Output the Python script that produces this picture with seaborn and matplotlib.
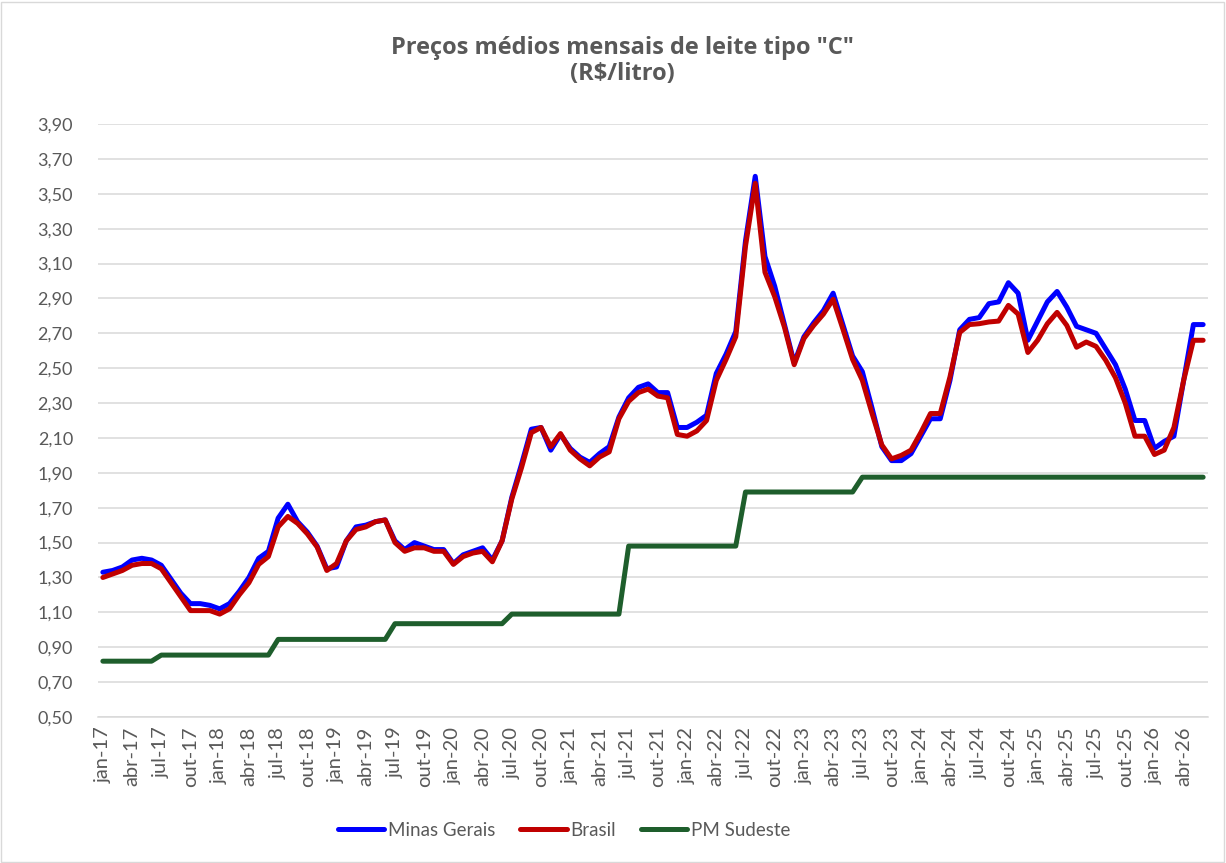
import numpy as np
import pandas as pd
import matplotlib
matplotlib.use("Agg")
import matplotlib.pyplot as plt
from matplotlib.patches import Rectangle
import seaborn as sns

# --- dados (jan-17 a jun-26, um ano por linha) ---
meses = ['jan', 'fev', 'mar', 'abr', 'mai', 'jun', 'jul', 'ago', 'set', 'out', 'nov', 'dez']
anos = ['17', '18', '19', '20', '21', '22', '23', '24', '25', '26']

minas_gerais = [
    1.33, 1.34, 1.36, 1.40, 1.41, 1.40, 1.37, 1.29, 1.21, 1.15, 1.15, 1.14,
    1.12, 1.15, 1.22, 1.30, 1.41, 1.45, 1.64, 1.72, 1.62, 1.56, 1.48, 1.35,
    1.36, 1.51, 1.59, 1.60, 1.62, 1.63, 1.51, 1.46, 1.50, 1.48, 1.46, 1.46,
    1.38, 1.43, 1.45, 1.47, 1.40, 1.51, 1.76, 1.95, 2.15, 2.16, 2.03, 2.12,
    2.04, 1.99, 1.96, 2.01, 2.05, 2.22, 2.33, 2.39, 2.41, 2.36, 2.36, 2.16,
    2.16, 2.19, 2.23, 2.47, 2.58, 2.71, 3.23, 3.60, 3.14, 2.97, 2.75, 2.53,
    2.68, 2.76, 2.83, 2.93, 2.75, 2.57, 2.48, 2.27, 2.05, 1.97, 1.97, 2.01,
    2.11, 2.21, 2.21, 2.43, 2.72, 2.78, 2.79, 2.87, 2.88, 2.99, 2.93, 2.66,
    2.77, 2.88, 2.94, 2.85, 2.74, 2.72, 2.70, 2.61, 2.52, 2.38, 2.20, 2.20,
    2.04, 2.08, 2.11, 2.43, 2.75, 2.75,
]

brasil = [
    1.30, 1.32, 1.34, 1.37, 1.38, 1.38, 1.35, 1.27, 1.19, 1.11, 1.11, 1.11,
    1.09, 1.12, 1.20, 1.27, 1.375, 1.42, 1.59, 1.65, 1.61, 1.55, 1.475, 1.34,
    1.38, 1.51, 1.575, 1.59, 1.62, 1.63, 1.50, 1.45, 1.47, 1.47, 1.45, 1.45,
    1.375, 1.42, 1.44, 1.45, 1.39, 1.51, 1.75, 1.93, 2.13, 2.16, 2.05, 2.125,
    2.03, 1.98, 1.94, 1.99, 2.02, 2.21, 2.31, 2.36, 2.38, 2.34, 2.33, 2.12,
    2.11, 2.14, 2.20, 2.43, 2.55, 2.68, 3.20, 3.56, 3.05, 2.91, 2.735, 2.52,
    2.67, 2.745, 2.81, 2.895, 2.725, 2.55, 2.43, 2.24, 2.06, 1.98, 2.00, 2.03,
    2.13, 2.24, 2.24, 2.45, 2.705, 2.75, 2.755, 2.765, 2.77, 2.86, 2.81, 2.59,
    2.66, 2.755, 2.82, 2.745, 2.62, 2.65, 2.625, 2.545, 2.445, 2.30, 2.11, 2.11,
    2.005, 2.03, 2.16, 2.43, 2.66, 2.66,
]

pm_sudeste = [
    0.82, 0.82, 0.82, 0.82, 0.82, 0.82, 0.855, 0.855, 0.855, 0.855, 0.855, 0.855,
    0.855, 0.855, 0.855, 0.855, 0.855, 0.855, 0.945, 0.945, 0.945, 0.945, 0.945, 0.945,
    0.945, 0.945, 0.945, 0.945, 0.945, 0.945, 1.035, 1.035, 1.035, 1.035, 1.035, 1.035,
    1.035, 1.035, 1.035, 1.035, 1.035, 1.035, 1.09, 1.09, 1.09, 1.09, 1.09, 1.09,
    1.09, 1.09, 1.09, 1.09, 1.09, 1.09, 1.48, 1.48, 1.48, 1.48, 1.48, 1.48,
    1.48, 1.48, 1.48, 1.48, 1.48, 1.48, 1.79, 1.79, 1.79, 1.79, 1.79, 1.79,
    1.79, 1.79, 1.79, 1.79, 1.79, 1.79, 1.875, 1.875, 1.875, 1.875, 1.875, 1.875,
    1.875, 1.875, 1.875, 1.875, 1.875, 1.875, 1.875, 1.875, 1.875, 1.875, 1.875, 1.875,
    1.875, 1.875, 1.875, 1.875, 1.875, 1.875, 1.875, 1.875, 1.875, 1.875, 1.875, 1.875,
    1.875, 1.875, 1.875, 1.875, 1.875, 1.875,
]

series = {'Minas Gerais': minas_gerais, 'Brasil': brasil, 'PM Sudeste': pm_sudeste}
cores = {'Minas Gerais': '#0000FF', 'Brasil': '#C00000', 'PM Sudeste': '#1E5E2C'}

n = len(minas_gerais)
rotulos = [f'{m}-{a}' for a in anos for m in meses][:n]

df = pd.concat([
    pd.DataFrame({'idx': np.arange(n), 'valor': v, 'serie': nome})
    for nome, v in series.items()
], ignore_index=True)

# --- estilo ---
sns.set_theme(style='white')
plt.rcParams['font.family'] = ['Lato', 'DejaVu Sans']
cinza = '#595959'

fig = plt.figure(figsize=(12.26, 8.63), dpi=100)
ax = fig.add_axes([98 / 1226, 1 - 717 / 863, (1208 - 98) / 1226, (717 - 124) / 863])

sns.lineplot(data=df, x='idx', y='valor', hue='serie', palette=cores,
             linewidth=3.6, ax=ax, legend=False,
             solid_capstyle='round', solid_joinstyle='round')

ax.set_xlim(-0.5, n - 0.5)
ax.set_ylim(0.5, 3.9)
yt = np.arange(0.5, 3.91, 0.2)
ax.set_yticks(yt)
ax.set_yticklabels([f'{v:.2f}'.replace('.', ',') for v in yt], fontsize=13, color=cinza)
ax.yaxis.grid(True, color='#D9D9D9', linewidth=1.1)
ax.set_axisbelow(True)

# ticks nas fronteiras das categorias, rotulos no centro
ax.set_xticks(np.arange(-0.5, n, 3))
ax.set_xticklabels([])
ax.set_xticks(np.arange(0, n, 3), minor=True)
ax.set_xticklabels(rotulos[::3], minor=True, rotation=90, fontsize=14.5, color=cinza)
ax.tick_params(axis='x', which='major', length=7, width=1.1, color='#D9D9D9', direction='out')
ax.tick_params(axis='x', which='minor', length=0, pad=7)
ax.tick_params(axis='y', length=0, pad=18)

for s in ['left', 'top', 'right']:
    ax.spines[s].set_visible(False)
ax.spines['bottom'].set_color('#D9D9D9')
ax.spines['bottom'].set_linewidth(1.1)
ax.set_xlabel('')
ax.set_ylabel('')

fig.text(0.508, 1 - 61 / 863, 'Preços médios mensais de leite tipo "C"\n(R$/litro)',
         ha='center', va='center', fontsize=17, fontweight='bold', color=cinza,
         family=['Open Sans', 'DejaVu Sans'], linespacing=1.15)

handles = [plt.Line2D([], [], color=cores[k], linewidth=3.6, solid_capstyle='round')
           for k in series]
fig.legend(handles, list(series.keys()), loc='center', bbox_to_anchor=(564 / 1226, 1 - 830 / 863),
           ncol=3, frameon=False, fontsize=13.5, labelcolor=cinza,
           handlelength=2.5, handletextpad=0.2, columnspacing=1.3)

fig.patches.append(Rectangle((0.001, 0.001), 0.997, 0.997, transform=fig.transFigure,
                             fill=False, edgecolor='#D9D9D9', linewidth=1))

fig.savefig('out.png', dpi=100)
